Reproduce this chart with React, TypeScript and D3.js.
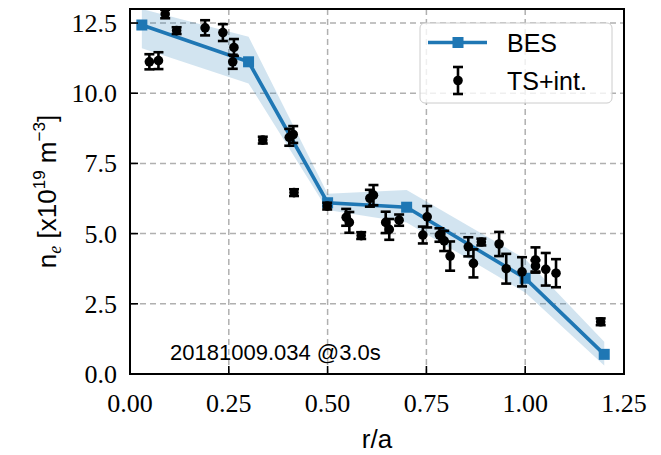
import React from "react";
import * as d3 from "d3";

// BES profile with uncertainty band
const besR = [0.03, 0.3, 0.5, 0.7, 1.0, 1.2];
const besNe = [12.43, 11.12, 6.1, 5.94, 3.41, 0.7];
const besLo = [11.6, 10.35, 5.84, 5.4, 2.9, 0.3];
const besHi = [13.0, 12.01, 6.42, 6.55, 4.1, 1.15];

// Thomson scattering + interferometry points
const tsR = [0.049, 0.072, 0.089, 0.118, 0.19, 0.235, 0.26, 0.263, 0.336, 0.403, 0.413, 0.415, 0.499, 0.547, 0.555, 0.585, 0.607, 0.616, 0.647, 0.656, 0.681, 0.741, 0.752, 0.783, 0.795, 0.81, 0.856, 0.869, 0.889, 0.934, 0.952, 0.992, 1.026, 1.026, 1.052, 1.078, 1.191];
const tsNe = [11.12, 11.16, 12.82, 12.23, 12.33, 12.16, 11.12, 11.63, 8.33, 8.43, 8.53, 6.46, 5.98, 5.58, 5.4, 4.93, 6.26, 6.37, 5.4, 5.15, 5.48, 4.95, 5.6, 4.95, 4.74, 4.2, 4.53, 3.94, 4.7, 4.63, 3.75, 3.64, 4.06, 3.85, 3.73, 3.59, 1.86];
const tsErr = [0.27, 0.3, 0.15, 0.12, 0.27, 0.3, 0.25, 0.3, 0.12, 0.3, 0.3, 0.12, 0.12, 0.3, 0.37, 0.12, 0.3, 0.36, 0.38, 0.37, 0.2, 0.3, 0.38, 0.24, 0.36, 0.52, 0.34, 0.5, 0.12, 0.43, 0.53, 0.52, 0.45, 0.2, 0.58, 0.5, 0.12];

const xTicks = [0, 0.25, 0.5, 0.75, 1.0, 1.25];
const yTicks = [0, 2.5, 5.0, 7.5, 10.0, 12.5];

const W = 661;
const H = 455;
const M = { left: 130, right: 624, top: 9, bottom: 374 };
const BLUE = "#1f77b4";
const SERIF = "'Liberation Serif', serif";
const SANS = "'Liberation Sans', 'DejaVu Sans', sans-serif";

export default function App() {
  const x = d3.scaleLinear().domain([0, 1.25]).range([M.left, M.right]);
  const y = d3.scaleLinear().domain([0, 13]).range([M.bottom, M.top]);

  const besIdx = besR.map((_, i) => i);
  const band = d3
    .area<number>()
    .x((i) => x(besR[i]))
    .y0((i) => y(besLo[i]))
    .y1((i) => y(besHi[i]))(besIdx) as string;
  const line = d3
    .line<number>()
    .x((i) => x(besR[i]))
    .y((i) => y(besNe[i]))(besIdx) as string;

  const sq = 11;
  const cap = 5;
  const ebw = 2.6;
  const dotR = 4.8;

  return (
    <svg
      width={W}
      height={H}
      style={{ position: "absolute", left: 0, top: 0, background: "#fff" }}
    >
      <defs>
        <clipPath id="plotArea">
          <rect x={M.left} y={M.top} width={M.right - M.left} height={M.bottom - M.top} />
        </clipPath>
      </defs>

      {/* grid */}
      <g stroke="#b0b0b0" strokeWidth={1.5} strokeDasharray="6,4">
        {xTicks.slice(1, -1).map((t) => (
          <line key={"gx" + t} x1={x(t)} x2={x(t)} y1={M.top} y2={M.bottom} />
        ))}
        {yTicks.slice(1).map((t) => (
          <line key={"gy" + t} x1={M.left} x2={M.right} y1={y(t)} y2={y(t)} />
        ))}
      </g>

      <g clipPath="url(#plotArea)">
        <path d={band} fill={BLUE} fillOpacity={0.2} stroke="none" />
        <path d={line} fill="none" stroke={BLUE} strokeWidth={3.6} />
        {besR.map((r, i) => (
          <rect
            key={"b" + i}
            x={x(r) - sq / 2}
            y={y(besNe[i]) - sq / 2}
            width={sq}
            height={sq}
            fill={BLUE}
          />
        ))}
        {tsR.map((r, i) => {
          const cx = x(r);
          const lo = y(tsNe[i] - tsErr[i]);
          const hi = y(tsNe[i] + tsErr[i]);
          return (
            <g key={"t" + i} stroke="#000" strokeWidth={ebw}>
              <line x1={cx} x2={cx} y1={lo} y2={hi} />
              <line x1={cx - cap} x2={cx + cap} y1={lo} y2={lo} />
              <line x1={cx - cap} x2={cx + cap} y1={hi} y2={hi} />
              <circle cx={cx} cy={y(tsNe[i])} r={dotR} fill="#000" stroke="none" />
            </g>
          );
        })}
      </g>

      {/* annotation */}
      <text x={170} y={360} fontFamily={SANS} fontSize={22} fill="#000">
        20181009.034 @3.0s
      </text>

      {/* legend */}
      <g>
        <rect x={420} y={23} width={192} height={80} rx={5} fill="#fff" fillOpacity={0.8} stroke="#cccccc" strokeWidth={1} />
        <line x1={428} x2={487} y1={42.5} y2={42.5} stroke={BLUE} strokeWidth={3.6} />
        <rect x={458 - sq / 2} y={42.5 - sq / 2} width={sq} height={sq} fill={BLUE} />
        <text x={507} y={52} fontFamily={SANS} fontSize={25} fill="#000">BES</text>
        <g stroke="#000" strokeWidth={ebw}>
          <line x1={458} x2={458} y1={67} y2={94} />
          <line x1={458 - cap} x2={458 + cap} y1={67} y2={67} />
          <line x1={458 - cap} x2={458 + cap} y1={94} y2={94} />
          <circle cx={458} cy={80.5} r={dotR} fill="#000" stroke="none" />
        </g>
        <text x={507} y={90} fontFamily={SANS} fontSize={25} fill="#000">TS+int.</text>
      </g>

      {/* ticks (inward) */}
      <g stroke="#000" strokeWidth={1.6}>
        {xTicks.map((t) => (
          <line key={"tx" + t} x1={x(t)} x2={x(t)} y1={M.bottom} y2={M.bottom - 8} />
        ))}
        {yTicks.map((t) => (
          <line key={"ty" + t} x1={M.left} x2={M.left + 8} y1={y(t)} y2={y(t)} />
        ))}
      </g>

      {/* spines */}
      <rect
        x={M.left}
        y={M.top}
        width={M.right - M.left}
        height={M.bottom - M.top}
        fill="none"
        stroke="#000"
        strokeWidth={2}
      />

      {/* tick labels */}
      <g fontFamily={SERIF} fontSize={26} fill="#000">
        {xTicks.map((t) => (
          <text key={"lx" + t} x={x(t)} y={412} textAnchor="middle">
            {d3.format(".2f")(t)}
          </text>
        ))}
        {yTicks.map((t) => (
          <text key={"ly" + t} x={117} y={y(t) + 9} textAnchor="end">
            {d3.format(".1f")(t)}
          </text>
        ))}
      </g>

      {/* axis labels */}
      <text x={(M.left + M.right) / 2} y={448} textAnchor="middle" fontFamily={SANS} fontSize={26}>
        r/a
      </text>
      <text
        transform={`translate(56, ${(M.top + M.bottom) / 2}) rotate(-90)`}
        textAnchor="middle"
        fontFamily={SANS}
        fontSize={26}
      >
        n<tspan fontFamily={SERIF} fontStyle="italic" fontSize={18} dy={5}>e</tspan>
        <tspan dy={-5}> [x10</tspan>
        <tspan fontSize={17} dy={-11}>19</tspan>
        <tspan dy={11}> m</tspan>
        <tspan fontSize={17} dy={-11}>−3</tspan>
        <tspan dy={11}>]</tspan>
      </text>
    </svg>
  );
}
